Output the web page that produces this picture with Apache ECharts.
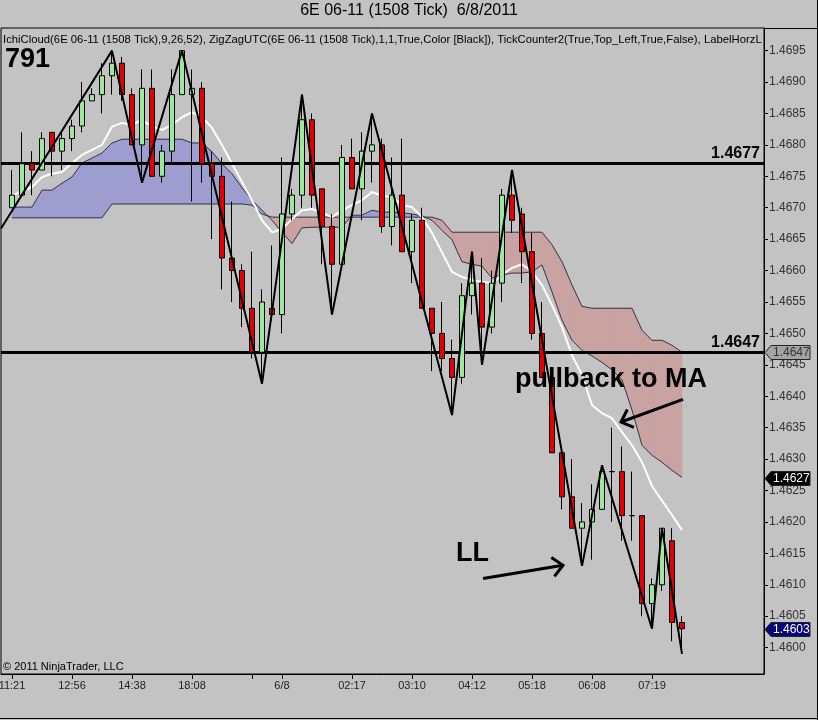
<!DOCTYPE html>
<html><head><meta charset="utf-8">
<script src="https://cdn.jsdelivr.net/npm/echarts@6/dist/echarts.min.js"></script>
<style>html,body{margin:0;padding:0;background:#c3c3c3}#c{width:818px;height:720px}</style>
</head><body><div id="c"></div>
<script>
// ---------- DATA ----------
const opens = [1.4670,1.4672,1.4677,1.4676,1.4682,1.4679,1.4681,1.4683,1.4687,1.4688,
1.4691,1.4693,1.4688,1.4680,1.4689,1.4675,1.4679,1.4688,1.4688,1.4689,
1.4677,1.4675,1.4662,1.4660,1.4654,1.4647,1.4654,1.4653,1.4669,1.4672,
1.4684,1.4673,1.4667,1.4661,1.4678,1.4673,1.4679,1.4680,1.4667,1.4672,
1.4663,1.4668,1.4654,1.4650,1.4646,1.4643,1.4656,1.4658,1.4651,1.4658,
1.4672,1.4669,1.4663,1.4650,1.4643,1.4631,1.4624,1.4619,1.4620,1.4622,
1.4628,1.4628,1.4621,1.4621,1.4607,1.4610,1.4617,1.4604];
const closes = [1.4672,1.4677,1.4676,1.4681,1.4679,1.4681,1.4683,1.4687,1.4688,1.4691,
1.4693,1.4688,1.4680,1.4689,1.4675,1.4679,1.4688,1.4695,1.4689,1.4677,
1.4675,1.4662,1.4660,1.4654,1.4647,1.4655,1.4653,1.4669,1.4672,1.4684,
1.4672,1.4667,1.4661,1.4678,1.4673,1.4679,1.4680,1.4667,1.4672,1.4663,
1.4668,1.4654,1.4650,1.4646,1.4643,1.4656,1.4658,1.4651,1.4658,1.4672,
1.4668,1.4663,1.4650,1.4643,1.4631,1.4624,1.4619,1.4620,1.4622,1.4628,
1.4628,1.4621,1.4621,1.4607,1.4610,1.4619,1.4604,1.4603];
const lows = [1.4670,1.4672,1.4672,1.4676,1.4675,1.4676,1.4679,1.4682,1.4687,1.4685,
1.4688,1.4687,1.4680,1.4674,1.4675,1.4674,1.4677,1.4688,1.4671,1.4674,
1.4665,1.4657,1.4655,1.4651,1.4646,1.4642,1.4652,1.4650,1.4668,1.4670,
1.4670,1.4661,1.4653,1.4661,1.4673,1.4668,1.4674,1.4666,1.4664,1.4663,
1.4658,1.4654,1.4644,1.4644,1.4637,1.4642,1.4653,1.4645,1.4650,1.4655,
1.4666,1.4658,1.4649,1.4643,1.4631,1.4622,1.4619,1.4613,1.4614,1.4622,
1.4620,1.4617,1.4617,1.4605,1.4603,1.4609,1.4601,1.4599];
const highs = [1.4676,1.4682,1.4679,1.4682,1.4682,1.4682,1.4684,1.4690,1.4689,1.4693,
1.4695,1.4694,1.4689,1.4692,1.4692,1.4680,1.4692,1.4695,1.4692,1.4690,
1.4679,1.4678,1.4671,1.4661,1.4663,1.4657,1.4664,1.4678,1.4673,1.4688,
1.4685,1.4673,1.4669,1.4680,1.4681,1.4682,1.4685,1.4681,1.4678,1.4681,
1.4669,1.4670,1.4654,1.4655,1.4649,1.4658,1.4663,1.4662,1.4660,1.4673,
1.4676,1.4670,1.4666,1.4655,1.4643,1.4631,1.4630,1.4623,1.4626,1.4629,
1.4635,1.4632,1.4628,1.4621,1.4611,1.4619,1.4619,1.4605];
const maLine = [1.46719,1.46727,1.46733,1.46749,1.46754,1.46757,1.46771,1.46784,1.46792,1.46800,
1.46829,1.46835,1.46832,1.46840,1.46829,1.46824,1.46832,1.46844,1.46852,1.46844,
1.46827,1.46800,1.46770,1.46741,1.46712,1.46680,1.46661,1.46666,1.46682,1.46696,
1.46698,1.46692,1.46685,1.46696,1.46704,1.46712,1.46725,1.46719,1.46717,1.46704,
1.46701,1.46685,1.46660,1.46629,1.46598,1.46590,1.46585,1.46582,1.46580,1.46594,
1.46604,1.46610,1.46598,1.46577,1.46545,1.46510,1.46465,1.46434,1.46386,1.46373,
1.46365,1.46343,1.46322,1.46295,1.46257,1.46234,1.46211,1.46187];
const senkouA = [1.46701,1.46701,1.46701,1.46728,1.46728,1.46739,1.46749,1.46771,1.46779,1.46787,
1.46803,1.46809,1.46809,1.46809,1.46809,1.46809,1.46809,1.46809,1.46803,1.46803,
1.46789,1.46770,1.46754,1.46732,1.46712,1.46696,1.46680,1.46661,1.46643,1.46668,
1.46669,1.46669,1.46669,1.46669,1.46688,1.46688,1.46696,1.46693,1.46693,1.46692,
1.46690,1.46687,1.46680,1.46664,1.46649,1.46614,1.46610,1.46607,1.46588,1.46593,
1.46596,1.46596,1.46598,1.46609,1.46566,1.46521,1.46489,1.46473,1.46464,1.46454,
1.46442,1.46426,1.46378,1.46322,1.46306,1.46295,1.46282,1.46271];
const senkouB = [1.46684,1.46684,1.46684,1.46684,1.46684,1.46684,1.46684,1.46684,1.46684,1.46684,
1.46706,1.46706,1.46706,1.46706,1.46706,1.46706,1.46706,1.46706,1.46706,1.46706,
1.46706,1.46706,1.46706,1.46706,1.46704,1.46690,1.46685,1.46685,1.46685,1.46685,
1.46685,1.46685,1.46685,1.46685,1.46685,1.46685,1.46685,1.46685,1.46685,1.46685,
1.46685,1.46685,1.46685,1.46680,1.46661,1.46661,1.46661,1.46661,1.46661,1.46661,
1.46661,1.46661,1.46661,1.46661,1.46641,1.46614,1.46577,1.46543,1.46540,1.46540,
1.46540,1.46540,1.46540,1.46505,1.46489,1.46489,1.46481,1.46470];
const zigzagIdx = [-1.1,10,13,17,25,29,32,36,44,46,47,50,57,59,64,65,67];
const zigzagVal = [1.46667,1.4695,1.4674,1.4695,1.4642,1.4688,1.4653,1.4685,1.4637,1.4663,1.4645,1.4676,1.4613,1.4629,1.4603,1.4619,1.4599];
const hLevels = [1.4677, 1.4647];
const tagValues = [1.4647, 1.4627, 1.4603];
const xTickIdx = [0,6,12,18,24,27,34,40,46,52,58,64];
const xTickLabels = ['11:21','12:56','14:38','18:08','','6/8','02:17','03:10','04:12','05:18','06:08','07:19'];
const yTicks = [1.4600,1.4605,1.4610,1.4615,1.4620,1.4625,1.4630,1.4635,1.4640,1.4645,
1.4650,1.4655,1.4660,1.4665,1.4670,1.4675,1.4680,1.4685,1.4690,1.4695];
const noteTexts = ['pullback to MA', 'LL'];
const noteX = [50.3, 44.4];
const noteY = [1.46427, 1.46150];
const arrowFromX = [47.1, 67.1];
const arrowFromY = [1.46110, 1.46395];
const arrowToX = [55.1, 60.9];
const arrowToY = [1.46131, 1.46359];

// ---------- STYLE ----------
const FONT = "'Liberation Sans', Arial, sans-serif";
const X_MIN = -1.1, X_MAX = 75.2;
const BLUE = '#9d9dcf', PINK = '#c9a2a2';
const tagFill = ['#a4a4a4', '#000000', '#06067a'];
const tagText = ['#333333', '#ffffff', '#ffffff'];

const candleData = opens.map((o, i) => [i, o, closes[i], lows[i], highs[i]]);
const cloudSegs = [];
for (let i = 0; i < senkouA.length - 1; i++) cloudSegs.push([i, senkouA[i], senkouB[i], senkouA[i + 1], senkouB[i + 1]]);

function cloudItem(params, api) {
  const i = api.value(0), a0 = api.value(1), b0 = api.value(2), a1 = api.value(3), b1 = api.value(4);
  const P = (x, v) => api.coord([x, v]);
  const d0 = a0 - b0, d1 = a1 - b1;
  const col = d => d >= 0 ? BLUE : PINK;
  const polys = [];
  if (d0 * d1 >= 0) {
    polys.push({ pts: [P(i, a0), P(i + 1, a1), P(i + 1, b1), P(i, b0)], c: col(d0 !== 0 ? d0 : d1) });
  } else {
    const t = d0 / (d0 - d1), xm = i + t, vm = a0 + (a1 - a0) * t;
    polys.push({ pts: [P(i, a0), P(xm, vm), P(i, b0)], c: col(d0) });
    polys.push({ pts: [P(xm, vm), P(i + 1, a1), P(i + 1, b1)], c: col(d1) });
  }
  return { type: 'group', children: polys.map(p => ({ type: 'polygon', shape: { points: p.pts }, style: { fill: p.c, stroke: p.c, lineWidth: 0.6 } })) };
}

function tagItem(params, api) {
  const k = params.dataIndex, v = api.value(1);
  const pt = api.coord([X_MAX, v]);
  const x0 = pt[0] + 1, y = Math.round(pt[1]) + 0.5;
  return { type: 'group', children: [
    { type: 'polygon', shape: { points: [[x0, y], [x0 + 6, y - 7], [x0 + 45, y - 7], [x0 + 45, y + 7], [x0 + 6, y + 7]] },
      style: { fill: tagFill[k], stroke: '#222', lineWidth: 1 } },
    { type: 'text', x: x0 + 8, y: y + 0.5, style: { text: v.toFixed(4), fill: tagText[k], font: '12px ' + FONT,
      textAlign: 'left', align: 'left', textVerticalAlign: 'middle', verticalAlign: 'middle' } }
  ] };
}

function noteItem(params, api) {
  const k = params.dataIndex;
  const pt = api.coord([api.value(0), api.value(1)]);
  return { type: 'text', x: pt[0], y: pt[1], style: { text: noteTexts[k], fill: '#000', font: 'bold 27px ' + FONT,
    textAlign: 'left', align: 'left', textVerticalAlign: 'middle', verticalAlign: 'middle' } };
}

function arrowItem(params, api) {
  const a = api.coord([api.value(0), api.value(1)]);
  const b = api.coord([api.value(2), api.value(3)]);
  const ang = Math.atan2(a[1] - b[1], a[0] - b[0]);
  const L = 14, w = 0.75;
  const w1 = [b[0] + L * Math.cos(ang + w), b[1] + L * Math.sin(ang + w)];
  const w2 = [b[0] + L * Math.cos(ang - w), b[1] + L * Math.sin(ang - w)];
  const st = { stroke: '#000', lineWidth: 3, fill: null };
  return { type: 'group', children: [
    { type: 'line', shape: { x1: a[0], y1: a[1], x2: b[0], y2: b[1] }, style: st },
    { type: 'polyline', shape: { points: [w1, b, w2] }, style: st }
  ] };
}

const chart = echarts.init(document.getElementById('c'), null, { renderer: 'canvas' });
chart.setOption({
  animation: false,
  backgroundColor: '#c3c3c3',
  textStyle: { fontFamily: FONT },
  title: [
    { text: '6E 06-11 (1508 Tick)  6/8/2011', left: 'center', top: 3, padding: 0,
      textStyle: { fontSize: 16, fontWeight: 'normal', color: '#000', fontFamily: FONT } },
    { text: 'IchiCloud(6E 06-11 (1508 Tick),9,26,52), ZigZagUTC(6E 06-11 (1508 Tick),1,1,True,Color [Black]), TickCounter2(True,Top_Left,True,False), LabelHorzLi',
      left: 3, top: 34, padding: 0,
      textStyle: { fontSize: 11.3, fontWeight: 'normal', color: '#000', fontFamily: FONT, width: 760, overflow: 'truncate', ellipsis: '' } },
    { text: '791', left: 5, top: 46, padding: 0, textStyle: { fontSize: 27, fontWeight: 'bold', color: '#000', fontFamily: FONT } },
    { text: '\u00a9 2011 NinjaTrader, LLC', left: 3, top: 661, padding: 0,
      textStyle: { fontSize: 11, fontWeight: 'normal', color: '#000', fontFamily: FONT } }
  ],
  graphic: [
    { type: 'line', shape: { x1: 764, y1: 28.5, x2: 818, y2: 28.5 }, style: { stroke: '#000', lineWidth: 1 } },
    { type: 'line', shape: { x1: 817.5, y1: 0, x2: 817.5, y2: 720 }, style: { stroke: '#000', lineWidth: 1 } },
    { type: 'line', shape: { x1: 0, y1: 718.5, x2: 818, y2: 718.5 }, style: { stroke: '#000', lineWidth: 1 } }
  ],
  grid: { left: 1, right: 54, top: 28, bottom: 46, show: true, borderColor: '#000', borderWidth: 1, backgroundColor: 'transparent',
    containLabel: false, outerBoundsMode: 'none' },
  xAxis: {
    type: 'value', min: X_MIN, max: X_MAX,
    splitLine: { show: false },
    axisLine: { show: true, onZero: false, lineStyle: { color: '#000', width: 1 } },
    axisTick: { show: true, customValues: xTickIdx, length: 5, lineStyle: { color: '#000' } },
    axisLabel: { customValues: xTickIdx, formatter: v => { const k = xTickIdx.indexOf(Math.round(v)); return k >= 0 ? xTickLabels[k] : ''; },
      color: '#222', fontSize: 11, margin: 6, fontFamily: FONT, hideOverlap: false }
  },
  yAxis: {
    type: 'value', position: 'right', min: 1.45958, max: 1.46986, scale: true,
    splitLine: { show: false },
    axisLine: { show: true, onZero: false, lineStyle: { color: '#000', width: 1 } },
    axisTick: { show: true, customValues: yTicks, length: 4, lineStyle: { color: '#000' } },
    axisLabel: { customValues: yTicks, formatter: v => v.toFixed(4), color: '#333', fontSize: 12, margin: 5, fontFamily: FONT }
  },
  series: [
    { type: 'custom', name: 'cloud', renderItem: cloudItem, data: cloudSegs, encode: { x: 0, y: 1 }, z: 1, silent: true },
    { type: 'line', name: 'SenkouA', data: senkouA.map((v, i) => [i, v]), symbol: 'none', z: 2,
      lineStyle: { color: '#34344a', width: 1 } },
    { type: 'line', name: 'SenkouB', data: senkouB.map((v, i) => [i, v]), symbol: 'none', z: 2,
      lineStyle: { color: '#34344a', width: 1 },
      markLine: { silent: true, symbol: 'none', z: 4, precision: 4,
        lineStyle: { color: '#000', width: 3, type: 'solid' },
        label: { position: 'insideEndTop', formatter: p => p.value.toFixed(4), color: '#000', fontSize: 16, fontWeight: 'bold', fontFamily: FONT, distance: [4, 2] },
        data: hLevels.map(v => ({ yAxis: v })) } },
    { type: 'line', name: 'MA', data: maLine.map((v, i) => [i, v]), symbol: 'none', z: 3,
      lineStyle: { color: '#ffffff', width: 2 } },
    { type: 'candlestick', name: '6E', data: candleData, encode: { x: 0, y: [1, 2, 3, 4] }, barWidth: 5, z: 5,
      itemStyle: { color: '#9aea9a', color0: '#e40000', borderColor: '#000', borderColor0: '#000', borderColorDoji: '#000', borderWidth: 1 } },
    { type: 'line', name: 'ZigZag', data: zigzagIdx.map((x, i) => [x, zigzagVal[i]]), symbol: 'none', z: 6,
      lineStyle: { color: '#000', width: 2 } },
    { type: 'custom', name: 'arrows', renderItem: arrowItem, z: 7,
      data: arrowFromX.map((x, i) => [x, arrowFromY[i], arrowToX[i], arrowToY[i]]), encode: { x: 0, y: 1 } },
    { type: 'custom', name: 'notes', renderItem: noteItem, z: 7,
      data: noteX.map((x, i) => [x, noteY[i]]), encode: { x: 0, y: 1 } },
    { type: 'custom', name: 'tags', renderItem: tagItem, z: 8, clip: false,
      data: tagValues.map(v => [X_MAX, v]), encode: { x: 0, y: 1 } }
  ]
});
</script>
</body></html>
